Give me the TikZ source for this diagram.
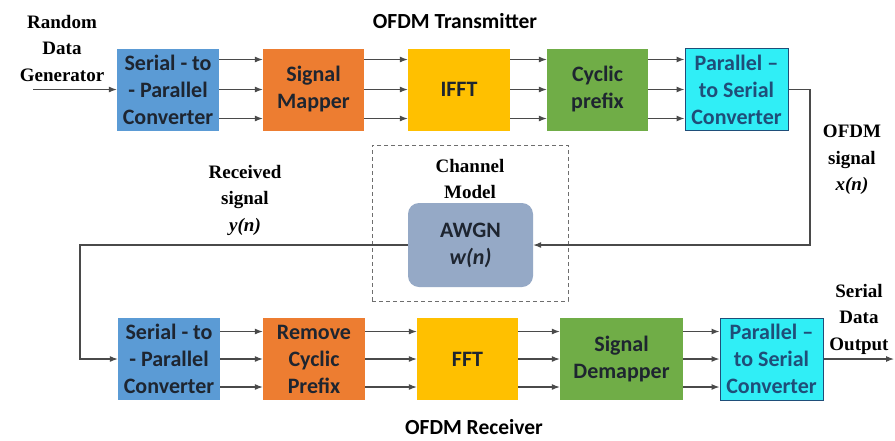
\documentclass[tikz,border=0pt]{standalone}
\usepackage{fontspec}
\setmainfont{Liberation Serif}
\newfontfamily\boxfont{Carlito}
\usetikzlibrary{arrows.meta,positioning}
\definecolor{cSP}{HTML}{5B9BD5}
\definecolor{cMap}{HTML}{ED7D31}
\definecolor{cFFT}{HTML}{FFC000}
\definecolor{cCP}{HTML}{70AD47}
\definecolor{cPS}{HTML}{30EEF6}
\definecolor{cPSb}{HTML}{1F4E79}
\definecolor{cAW}{HTML}{95A9C6}
\definecolor{cTxt}{HTML}{1E2530}
\definecolor{cLine}{HTML}{4A4A4A}
\tikzset{
  blk/.style={minimum width=#1, minimum height=82pt, inner sep=0pt, align=center,
    text=cTxt, font=\boxfont\bfseries\fontsize{22}{27}\selectfont},
  blk/.default=102pt,
  psblk/.style={blk=103pt, fill=cPS, draw=cPSb, line width=1pt, text=cPSb},
  arr/.style={draw=cLine, line width=1.1pt, -{Latex[length=8pt,width=6pt]}},
  lab/.style={align=center, text=black, font=\bfseries\fontsize{19}{26.5}\selectfont},
  slab/.style={align=center, text=black, font=\boxfont\bfseries\fontsize{21.5}{24}\selectfont},
}
\begin{document}
\begin{tikzpicture}[x=1pt,y=-1pt]
\useasboundingbox[fill=white] (0,0) rectangle (895,440);
% top row
\node[blk, fill=cSP] (sp1) at (168,89.5) {Serial - to\\- Parallel\\Converter};
\node[blk=101pt, fill=cMap] (map1) at (313.5,89.5) {Signal\\Mapper};
\node[blk, fill=cFFT] (ifft) at (459,89.5) {IFFT};
\node[blk=101pt, fill=cCP] (cp) at (597.5,89.5) {Cyclic\\prefix};
\node[psblk] (ps1) at (736.5,89.5) {Parallel –\\to Serial\\Converter};
% bottom row
\node[blk, fill=cSP] (sp2) at (169,359) {Serial - to\\- Parallel\\Converter};
\node[blk, fill=cMap] (rcp) at (314,359) {Remove\\Cyclic\\Prefix};
\node[blk=101pt, fill=cFFT] (fft) at (467.5,359) {FFT};
\node[blk=123pt, fill=cCP] (dem) at (621.5,359) {Signal\\Demapper};
\node[psblk] (ps2) at (771.5,359) {Parallel –\\to Serial\\Converter};
% channel
\node[draw=cLine!80, dashed, dash pattern=on 4pt off 3pt, line width=0.8pt,
  minimum width=196pt, minimum height=156pt, inner sep=0pt] (chan) at (470,223) {};
\node[blk=125pt, minimum height=84pt, fill=cAW, rounded corners=11pt] (awgn) at (470.5,245)
  {AWGN\\\itshape w(n)};
% labels
\node[lab] (lrdg) at (62,48) {Random\\Data\\Generator};
\node[slab] (ltx) at (455,21) {OFDM Transmitter};
\node[slab] (lrx) at (474,427) {OFDM Receiver};
\node[lab] (lofdm) at (852,160) {OFDM\\signal\\\itshape x(n)};
\node[lab] (lrec) at (245,200) {Received\\signal\\\itshape y(n)};
\node[lab] (lch) at (470,179) {Channel\\Model};
\node[lab] (lout) at (859,319) {Serial\\Data\\Output};
% connectors top
\coordinate (in) at (33,89.5);
\draw[arr] (in) -- (sp1.west);
\foreach \a/\b in {sp1/map1, map1/ifft, ifft/cp, cp/ps1}{
  \draw[arr] ([yshift=30pt]\a.east) -- ([yshift=30pt]\b.west);
  \draw[arr] (\a.east) -- (\b.west);
  \draw[arr] ([yshift=-29pt]\a.east) -- ([yshift=-29pt]\b.west);
}
\foreach \a/\b in {sp2/rcp, rcp/fft, fft/dem, dem/ps2}{
  \draw[arr] ([yshift=27.5pt]\a.east) -- ([yshift=27.5pt]\b.west);
  \draw[arr] (\a.east) -- (\b.west);
  \draw[arr] ([yshift=-28pt]\a.east) -- ([yshift=-28pt]\b.west);
}
\coordinate (r1) at (810,245);
\draw[arr] (ps1.east) -| (r1) -- (awgn.east);
\coordinate (l1) at (80,245);
\draw[arr] (awgn.west) -- (l1) |- (sp2.west);
\coordinate (out) at (894,359);
\draw[arr] (ps2.east) -- (out);
\end{tikzpicture}
\end{document}
